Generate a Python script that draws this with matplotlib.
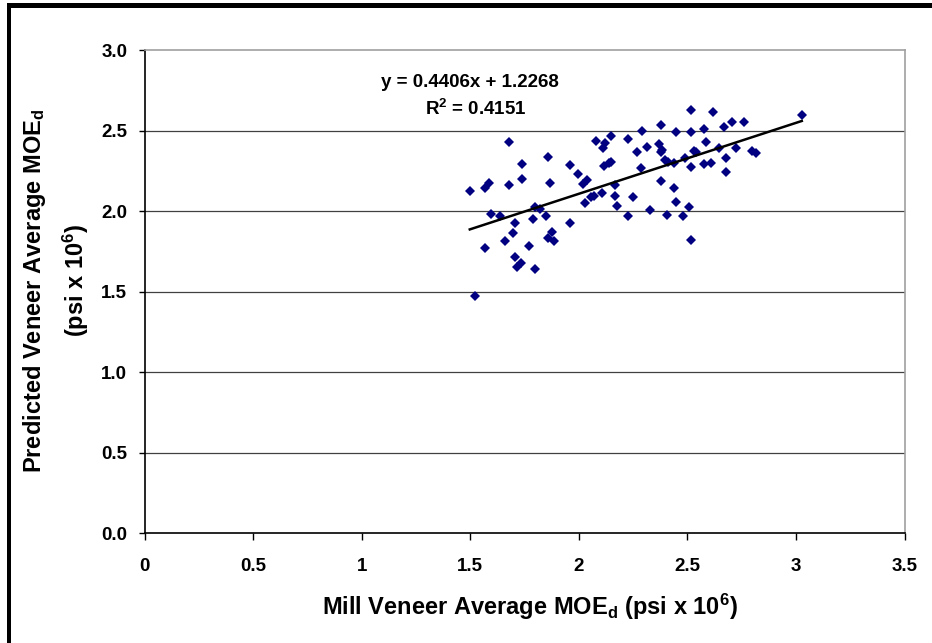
import matplotlib
matplotlib.use("Agg")
import matplotlib.pyplot as plt
from matplotlib.patches import Rectangle
import numpy as np

plt.rcParams['font.family'] = ['Liberation Sans', 'DejaVu Sans']
plt.rcParams['font.weight'] = 'bold'
plt.rcParams['mathtext.fontset'] = 'custom'
plt.rcParams['mathtext.rm'] = 'Liberation Sans:bold'
plt.rcParams['mathtext.it'] = 'Liberation Sans:bold'
plt.rcParams['mathtext.bf'] = 'Liberation Sans:bold'
plt.rcParams['mathtext.default'] = 'rm'

# mill veneer average MOEd (x) vs predicted veneer average MOEd (y), psi x 10^6
mill_moe = [1.498, 1.521, 1.567, 1.587, 1.567, 1.598, 1.639, 1.677, 1.677, 1.659,
            1.708, 1.699, 1.708, 1.717, 1.736, 1.739, 1.739, 1.769, 1.797, 1.820,
            1.789, 1.797, 1.860, 1.869, 1.848, 1.858, 1.878, 1.888, 1.958, 1.958,
            1.998, 2.019, 2.039, 2.027, 2.058, 2.070, 2.078, 2.111, 2.119, 2.147,
            2.116, 2.138, 2.150, 2.109, 2.168, 2.168, 2.178, 2.227, 2.250, 2.227,
            2.266, 2.290, 2.288, 2.316, 2.328,
            2.377, 2.368, 2.385, 2.377, 2.377, 2.398, 2.411, 2.437, 2.438, 2.447,
            2.408, 2.449, 2.478, 2.487, 2.507, 2.518, 2.518, 2.529, 2.538, 2.518,
            2.518, 2.578, 2.587, 2.578, 2.607, 2.618, 2.648, 2.667, 2.676, 2.676,
            2.707, 2.725, 2.759, 2.797, 2.817, 3.027]
pred_moe = [2.125, 1.473, 2.146, 2.173, 1.773, 1.981, 1.972, 2.428, 2.161, 1.813,
            1.925, 1.867, 1.718, 1.655, 1.676, 2.291, 2.202, 1.786, 2.028, 2.012,
            1.952, 1.639, 2.337, 2.177, 1.968, 1.836, 1.873, 1.813, 2.285, 1.927,
            2.229, 2.167, 2.194, 2.049, 2.090, 2.094, 2.434, 2.395, 2.422, 2.469,
            2.283, 2.297, 2.308, 2.111, 2.163, 2.097, 2.032, 2.451, 2.090, 1.970,
            2.366, 2.498, 2.266, 2.401, 2.008,
            2.535, 2.417, 2.380, 2.366, 2.186, 2.318, 2.306, 2.301, 2.144, 2.055,
            1.976, 2.494, 1.970, 2.332, 2.024, 2.629, 2.492, 2.374, 2.366, 2.275,
            1.819, 2.509, 2.428, 2.293, 2.301, 2.618, 2.395, 2.525, 2.332, 2.246,
            2.554, 2.395, 2.556, 2.374, 2.360, 2.596]

slope = 0.4406
intercept = 1.2268
r2 = 0.4151

x_ticks = [0, 0.5, 1, 1.5, 2, 2.5, 3, 3.5]
x_labels = ['0', '0.5', '1', '1.5', '2', '2.5', '3', '3.5']
y_ticks = [0.0, 0.5, 1.0, 1.5, 2.0, 2.5, 3.0]
y_labels = ['0.0', '0.5', '1.0', '1.5', '2.0', '2.5', '3.0']

W, H = 932, 643
fig = plt.figure(figsize=(W / 100, H / 100), dpi=100)
ax = fig.add_axes([144.5 / W, 1 - 533.2 / H, 760 / W, 483 / H])

for yv in y_ticks[1:-1]:
    ax.axhline(yv, color='#404040', lw=0.9, zorder=1)

ax.plot(mill_moe, pred_moe, linestyle='none', marker='D', markersize=5,
        color='#000080', markeredgewidth=0, zorder=3)

xs = np.array([min(mill_moe), max(mill_moe)])
ax.plot(xs, slope * xs + intercept, color='black', lw=1.8, zorder=4)

ax.set_xlim(0, 3.5)
ax.set_ylim(0, 3.0)
ax.set_xticks(x_ticks)
ax.set_xticklabels(x_labels)
ax.set_yticks(y_ticks)
ax.set_yticklabels(y_labels)
ax.tick_params(axis='x', direction='out', length=5, width=1, pad=13, labelsize=13.5)
ax.tick_params(axis='y', direction='out', length=4, width=1, pad=8.5, labelsize=13.5)

ax.spines['left'].set_color('black')
ax.spines['bottom'].set_color('black')
ax.spines['top'].set_color('#a0a0a0')
ax.spines['right'].set_color('#a0a0a0')
for s in ax.spines.values():
    s.set_linewidth(1.2)

ax.text(1.50, 2.773, 'y = %.4fx + %.4f' % (slope, intercept), ha='center', va='baseline',
        fontsize=13.5, fontweight='bold')
ax.text(1.528, 2.598, 'R$^2$ = %.4f' % r2, ha='center', va='baseline',
        fontsize=13.5, fontweight='bold')

fig.text(530 / W, 1 - 615 / H, 'Mill Veneer Average MOE$_{d}$ (psi x 10$^{6}$)',
         ha='center', va='baseline', fontsize=17, fontweight='bold')
fig.text(35 / W, 1 - 291 / H, 'Predicted Veneer Average MOE$_{d}$',
         ha='center', va='center', rotation=90, fontsize=17, fontweight='bold')
fig.text(76 / W, 1 - 280 / H, '(psi x 10$^{6}$)',
         ha='center', va='center', rotation=90, fontsize=17, fontweight='bold')

# outer frame (left and top edges only)
fig.add_artist(Rectangle((6.5 / W, 0), 4 / W, 1 - 3.5 / H, transform=fig.transFigure,
                         facecolor='black', edgecolor='none'))
fig.add_artist(Rectangle((6.5 / W, 1 - 7.5 / H), 1, 4 / H, transform=fig.transFigure,
                         facecolor='black', edgecolor='none'))

fig.savefig('out.png', dpi=100)
